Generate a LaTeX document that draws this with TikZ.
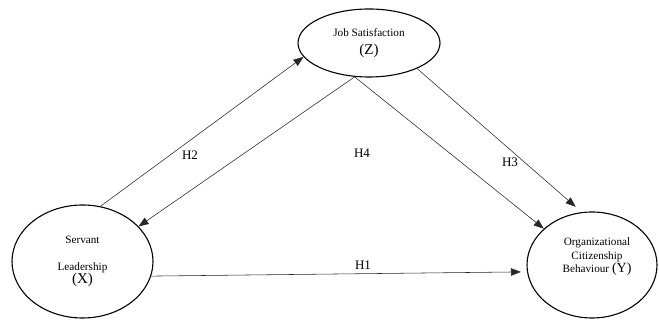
\documentclass[tikz,border=0pt]{standalone}
\usepackage{fontspec}
\setmainfont{Liberation Serif}
\usetikzlibrary{shapes,arrows.meta,positioning}

\begin{document}
\begin{tikzpicture}[x=1pt, y=1pt,
    var/.style={draw, ellipse, line width=1.1pt, inner sep=0pt, align=center, font=\fontsize{11.2}{13.5}\selectfont},
    link/.style={-{Triangle[length=10pt,width=7.5pt]}, line width=0.55pt, draw=black!85},
    hyp/.style={font=\fontsize{13}{15}\selectfont},
]
\useasboundingbox (0,0) rectangle (659,320);

% Constructs
\node[var, minimum width=141pt, minimum height=113pt] (x) at (82.5, 58.5)
  {Servant\\[13pt]Leadership\\{\fontsize{15}{17}\selectfont(X)}};
\node[var, minimum width=142pt, minimum height=68pt] (z) at (369, 277)
  {Job Satisfaction\\[4pt]{\fontsize{15}{17}\selectfont(Z)}};
\node[var, minimum width=130pt, minimum height=106pt] (y) at (592, 55) {};
\node[align=center, font=\fontsize{11.2}{13.5}\selectfont] (ytext) at (597, 63)
  {Organizational\\Citizenship\\Behaviour {\fontsize{14}{16}\selectfont(Y)}};

% Hypotheses
\draw[link] (x.72) -- (z.192);
\draw[link] (z.247) -- (x.32);
\draw[link] (z.247) -- (y.143);
\draw[link, shorten >=8pt] (z.-28) -- (y.101);
\draw[link, shorten >=6pt] (x.-12) -- (y.186);

\node[hyp] (h2) at (190, 165) {H2};
\node[hyp] (h4) at (362, 167) {H4};
\node[hyp] (h3) at (510, 158) {H3};
\node[hyp] (h1) at (363, 55) {H1};

\end{tikzpicture}
\end{document}
